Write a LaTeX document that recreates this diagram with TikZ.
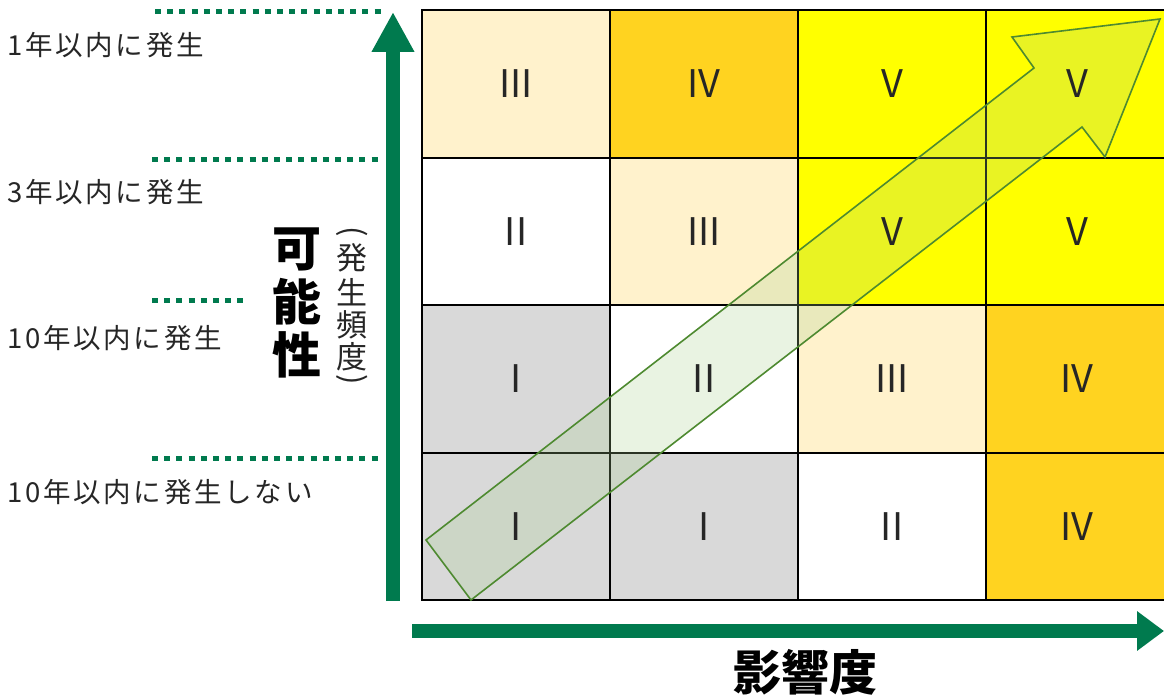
\documentclass[tikz,border=0pt]{standalone}
\usepackage{fontspec}
\setmainfont{Noto Sans CJK JP}
\newfontfamily\lblfont{Noto Sans CJK JP}[LetterSpace=10]
\usetikzlibrary{arrows.meta}
\definecolor{axgreen}{HTML}{007A4E}
\definecolor{cream}{HTML}{FFF2CC}
\definecolor{gold}{HTML}{FFD320}
\definecolor{yel}{HTML}{FFFF00}
\definecolor{gry}{HTML}{D9D9D9}
\definecolor{arrfill}{HTML}{A9D18E}
\definecolor{arrline}{HTML}{4E8A30}
\definecolor{numcol}{HTML}{262626}
\tikzset{
  cell/.style={draw=black, line width=2pt, minimum width=188pt, minimum height=147.5pt, inner sep=0pt},
  num/.style={inner sep=0pt, text=numcol, font=\fontsize{38}{40}\selectfont},
  lvl/.style={anchor=west, inner sep=0pt, text=numcol, font=\lblfont\fontsize{27.5}{30}\selectfont},
  dotline/.style={axgreen, line width=5pt, dash pattern=on 6pt off 6.2pt},
  axis/.style={axgreen, line width=14pt},
  vchar/.style={inner sep=0pt, font=\fontsize{31}{31}\selectfont, text=numcol},
  bigchar/.style={inner sep=0pt, font=\bfseries\fontsize{49}{49}\selectfont}
}
\begin{document}
\begin{tikzpicture}[x=1pt,y=-1pt]
\useasboundingbox (0,0) rectangle (1164,700);
\clip (0,0) rectangle (1164,700);
% cells
\node[cell, fill=cream] (c11) at (516,84) {};
\node[cell, fill=gold]  (c12) at (704,84) {};
\node[cell, fill=yel]   (c13) at (892,84) {};
\node[cell, fill=yel]   (c14) at (1080,84) {};
\node[cell, fill=white] (c21) at (516,231.5) {};
\node[cell, fill=cream] (c22) at (704,231.5) {};
\node[cell, fill=yel]   (c23) at (892,231.5) {};
\node[cell, fill=yel]   (c24) at (1080,231.5) {};
\node[cell, fill=gry]   (c31) at (516,379) {};
\node[cell, fill=white] (c32) at (704,379) {};
\node[cell, fill=cream] (c33) at (892,379) {};
\node[cell, fill=gold]  (c34) at (1080,379) {};
\node[cell, fill=gry]   (c41) at (516,526.5) {};
\node[cell, fill=gry]   (c42) at (704,526.5) {};
\node[cell, fill=white] (c43) at (892,526.5) {};
\node[cell, fill=gold]  (c44) at (1080,526.5) {};
% big diagonal arrow
\draw[arrline, line width=1.6pt, fill=arrfill, fill opacity=0.25, line join=miter]
  (426,540) -- (1034,68) -- (1012,37) -- (1160,19) -- (1105,157) -- (1082,127) -- (471,600) -- cycle;
% numerals
\node[num] (n11) at (c11) {III};
\node[num] (n12) at (c12) {IV};
\node[num] (n13) at (c13) {V};
\node[num] (n14) at (1077,84) {V};
\node[num] (n21) at (c21) {II};
\node[num] (n22) at (c22) {III};
\node[num] (n23) at (c23) {V};
\node[num] (n24) at (1077,231.5) {V};
\node[num] (n31) at (c31) {I};
\node[num] (n32) at (c32) {II};
\node[num] (n33) at (c33) {III};
\node[num] (n34) at (1077,379) {IV};
\node[num] (n41) at (c41) {I};
\node[num] (n42) at (c42) {I};
\node[num] (n43) at (c43) {II};
\node[num] (n44) at (1077,526.5) {IV};
% axes
\coordinate (vs) at (393,601);
\coordinate (ve) at (393,12);
\coordinate (hs) at (412,631);
\coordinate (he) at (1164,631);
\draw[axis, -{Triangle[width=40pt,length=40pt]}] (vs) -- (ve);
\draw[axis, -{Triangle[width=38pt,length=27pt]}] (hs) -- (he);
% dotted level lines
\coordinate (d1a) at (155,12);  \coordinate (d1b) at (383,12);
\coordinate (d2a) at (152,160); \coordinate (d2b) at (380,160);
\coordinate (d3a) at (152,301); \coordinate (d3b) at (246,301);
\coordinate (d4a) at (152,458); \coordinate (d4b) at (380,458);
\draw[dotline] (d1a) -- (d1b);
\draw[dotline] (d2a) -- (d2b);
\draw[dotline] (d3a) -- (d3b);
\draw[dotline] (d4a) -- (d4b);
% level labels
\node[lvl] (l1) at (7,45) {1年以内に発生};
\node[lvl] (l2) at (7,192) {3年以内に発生};
\node[lvl] (l3) at (7,338) {10年以内に発生};
\node[lvl] (l4) at (7,492) {10年以内に発生しない};
% vertical axis title
\node[bigchar] (k1) at (297,249) {可};
\node[bigchar] (k2) at (297,302) {能};
\node[bigchar] (k3) at (297,355) {性};
\node[vchar, rotate=-90] (p1) at (352,232) {(};
\node[vchar] (h1) at (352,258) {発};
\node[vchar] (h2) at (352,292) {生};
\node[vchar] (h3) at (352,325) {頻};
\node[vchar] (h4) at (352,357) {度};
\node[vchar, rotate=-90] (p2) at (352,380) {)};
% horizontal axis title
\node[inner sep=0pt, font=\bfseries\fontsize{48}{48}\selectfont] (xt) at (805,672) {影響度};
\end{tikzpicture}
\end{document}
